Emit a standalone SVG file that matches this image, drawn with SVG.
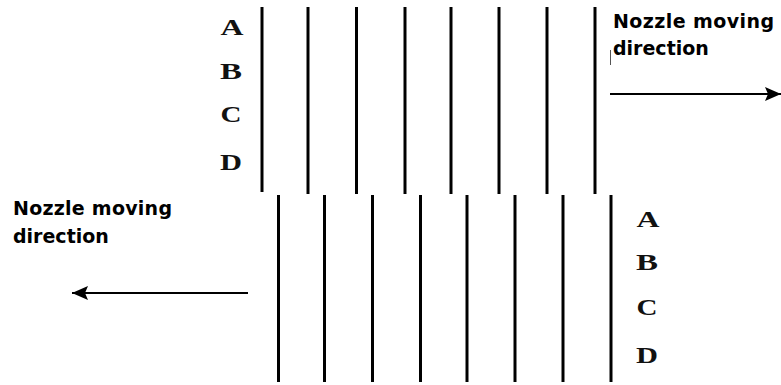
<svg xmlns="http://www.w3.org/2000/svg" width="781" height="385" viewBox="0 0 781 385">
<defs>
<style>
.bar{stroke:#000;stroke-width:3;fill:none}
.arr{stroke:#000;stroke-width:2;fill:none}
.lt{font-family:"Liberation Serif","DejaVu Serif",serif;font-weight:bold;font-size:23px;fill:#111;text-anchor:middle}
.lbl{font-family:"DejaVu Sans","Liberation Sans",sans-serif;font-weight:bold;font-size:19px;fill:#000}
</style>
<marker id="ah" viewBox="0 0 16 14" refX="16" refY="7" markerWidth="16" markerHeight="14" markerUnits="userSpaceOnUse" orient="auto">
<path d="M0,0 L16,7 L0,14 L3,7 Z" fill="#000"/>
</marker>
</defs>
<rect width="781" height="385" fill="#fff"/>
<g id="top-bars">
<line class="bar" x1="262" y1="7" x2="262" y2="192"/>
<line class="bar" x1="308" y1="7" x2="308" y2="194"/>
<line class="bar" x1="356.5" y1="7" x2="356.5" y2="194"/>
<line class="bar" x1="405" y1="7" x2="405" y2="194"/>
<line class="bar" x1="451" y1="7" x2="451" y2="194"/>
<line class="bar" x1="499" y1="7" x2="499" y2="194"/>
<line class="bar" x1="547" y1="7" x2="547" y2="194"/>
<line class="bar" x1="595" y1="7" x2="595" y2="194"/>
</g>
<g id="bottom-bars">
<line class="bar" x1="278.5" y1="195" x2="278.5" y2="382"/>
<line class="bar" x1="324.5" y1="195" x2="324.5" y2="382"/>
<line class="bar" x1="372.5" y1="195" x2="372.5" y2="382"/>
<line class="bar" x1="420.5" y1="195" x2="420.5" y2="382"/>
<line class="bar" x1="467" y1="195" x2="467" y2="382"/>
<line class="bar" x1="515" y1="195" x2="515" y2="382"/>
<line class="bar" x1="563" y1="195" x2="563" y2="382"/>
<line class="bar" x1="611" y1="195" x2="611" y2="382"/>
</g>
<g id="top-letters">
<text class="lt" x="232" y="35" textLength="23" lengthAdjust="spacingAndGlyphs">A</text>
<text class="lt" x="231" y="79" textLength="22" lengthAdjust="spacingAndGlyphs">B</text>
<text class="lt" x="231" y="122" textLength="21" lengthAdjust="spacingAndGlyphs">C</text>
<text class="lt" x="231" y="170" textLength="22" lengthAdjust="spacingAndGlyphs">D</text>
</g>
<g id="bottom-letters">
<text class="lt" x="648" y="227" textLength="23" lengthAdjust="spacingAndGlyphs">A</text>
<text class="lt" x="647" y="270" textLength="22" lengthAdjust="spacingAndGlyphs">B</text>
<text class="lt" x="647" y="315" textLength="21" lengthAdjust="spacingAndGlyphs">C</text>
<text class="lt" x="647" y="363" textLength="22" lengthAdjust="spacingAndGlyphs">D</text>
</g>
<g id="right-label">
<text class="lbl" x="613" y="28" textLength="161">Nozzle moving</text>
<text class="lbl" x="613" y="55">direction</text>
<line x1="610.5" y1="50" x2="610.5" y2="65" stroke="#555" stroke-width="1"/>
</g>
<g id="left-label">
<text class="lbl" x="13" y="215" textLength="159">Nozzle moving</text>
<text class="lbl" x="13" y="243">direction</text>
</g>
<g id="connectors">
<line class="arr" x1="610" y1="94" x2="781" y2="94" marker-end="url(#ah)"/>
<line class="arr" x1="248" y1="293" x2="72" y2="293" marker-end="url(#ah)"/>
</g>
</svg>
